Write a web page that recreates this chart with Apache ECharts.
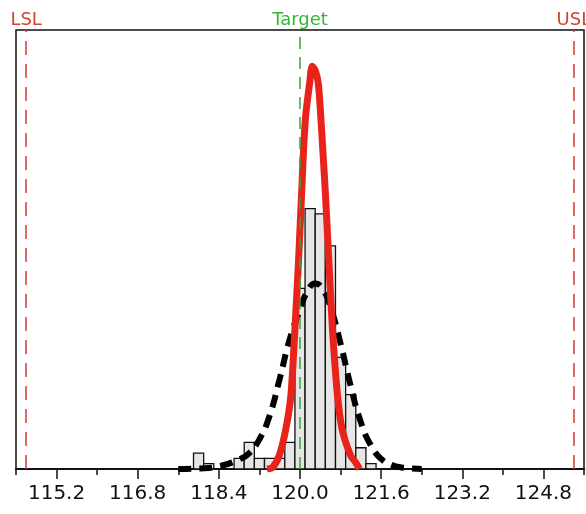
<!DOCTYPE html>
<html>
<head>
<meta charset="utf-8">
<script src="https://cdn.jsdelivr.net/npm/echarts@6/dist/echarts.min.js"></script>
<style>
  html, body { margin: 0; padding: 0; background: #fff; }
  #main { width: 586px; height: 514px; }
</style>
</head>
<body>
<div id="main"></div>
<script>
// histogram bins (center of each 0.2 wide bin) and counts
var binWidth = 0.2
var binCenters = [118.0, 118.2, 118.4, 118.6, 118.8, 119.0, 119.2, 119.4, 119.6, 119.8,
                  120.0, 120.2, 120.4, 120.6, 120.8, 121.0, 121.2, 121.4]
var binCounts = [3, 1, 0, 0, 2, 5, 2, 2, 2, 5,
                 34, 49, 48, 42, 21, 14, 4, 1]

// overall fit (black dashed)
var overallX = [117.6, 118.0, 118.4, 118.8, 119.0, 119.2, 119.4, 119.6, 119.8, 120.0,
                120.15, 120.3, 120.45, 120.6, 120.8, 121.0, 121.2, 121.4, 121.6, 121.8, 122.0, 122.4]
var overallY = [0, 0.1, 0.5, 1.8, 3.0, 5.6, 10.0, 17.0, 24.5, 30.0,
                33.5, 34.9, 33.8, 30.5, 23.6, 15.6, 8.8, 4.4, 1.9, 0.8, 0.3, 0]

// within fit (red)
var withinX = [119.35, 119.46, 119.59, 119.72, 119.82, 119.9, 119.97, 120.03, 120.07, 120.11, 120.19, 120.24,
               120.3, 120.36, 120.41, 120.45, 120.5, 120.57, 120.64, 120.74, 120.83, 121.0, 121.1, 121.17]
var withinY = [0, 0.3, 2.5, 7.5, 13.8, 26.4, 38.9, 51.5, 60, 66.3, 72.6, 75.8,
               75.0, 72.6, 66.3, 60, 52, 38.9, 26.4, 13.8, 7.5, 2.5, 1.2, 0]

var xTickLabels = [115.2, 116.8, 118.4, 120.0, 121.6, 123.2, 124.8]
var LSL = 114.6
var USL = 125.4
var TARGET = 120.0

var chart = echarts.init(document.getElementById('main'))

function pairs(xs, ys) {
  return xs.map(function (x, i) { return [x, ys[i]] })
}

var option = {
  animation: false,
  grid: {
    left: 16, right: 2, top: 30, bottom: 45,
    show: true,
    borderColor: '#111',
    borderWidth: 1.5
  },
  xAxis: [{
    type: 'value',
    min: 114.4,
    max: 125.6,
    interval: 0.8,
    splitLine: { show: false },
    axisLine: { onZero: false, lineStyle: { color: '#111', width: 2 } },
    axisTick: { length: 6, lineStyle: { color: '#111', width: 1.5 } },
    axisLabel: {
      customValues: xTickLabels,
      formatter: function (v) { return v.toFixed(1) },
      color: '#111',
      fontFamily: 'DejaVu Sans',
      fontSize: 20,
      margin: 15
    }
  }, {
    // longer ticks at the labelled values
    type: 'value',
    position: 'bottom',
    min: 114.4,
    max: 125.6,
    interval: 0.8,
    splitLine: { show: false },
    axisLine: { show: false },
    axisLabel: { show: false },
    axisTick: { customValues: xTickLabels, length: 10, lineStyle: { color: '#111', width: 1.5 } }
  }],
  yAxis: {
    type: 'value',
    min: 0,
    max: 82.6,
    show: false
  },
  series: [
    {
      name: 'hist',
      type: 'custom',
      data: pairs(binCenters, binCounts).filter(function (d) { return d[1] > 0 }),
      renderItem: function (params, api) {
        var x = api.value(0), c = api.value(1)
        var p0 = api.coord([x - binWidth / 2, c])
        var p1 = api.coord([x + binWidth / 2, 0])
        return {
          type: 'rect',
          shape: { x: p0[0], y: p0[1], width: p1[0] - p0[0], height: p1[1] - p0[1] },
          style: { fill: '#e6e6e6', stroke: '#111', lineWidth: 1.3 }
        }
      },
      z: 2,
      markLine: {
        silent: true,
        symbol: 'none',
        animation: false,
        data: [
          {
            xAxis: LSL,
            lineStyle: { color: '#d33a32', type: [14, 9], width: 1.5 },
            label: { formatter: 'LSL', color: '#d2452f', fontFamily: 'DejaVu Sans', fontSize: 18, distance: 1 }
          },
          {
            xAxis: USL,
            lineStyle: { color: '#d33a32', type: [14, 9], width: 1.5 },
            label: { formatter: 'USL', color: '#d2452f', fontFamily: 'DejaVu Sans', fontSize: 18, distance: 1 }
          },
          {
            xAxis: TARGET,
            lineStyle: { color: '#2eaa2e', type: [12, 8], width: 1.5 },
            label: { formatter: 'Target', color: '#33b833', fontFamily: 'DejaVu Sans', fontSize: 18, distance: 1 }
          }
        ]
      }
    },
    {
      name: 'overall',
      type: 'line',
      data: pairs(overallX, overallY),
      smooth: true,
      showSymbol: false,
      lineStyle: { color: '#000', width: 6, type: [13, 8] },
      z: 3
    },
    {
      name: 'within',
      type: 'line',
      data: pairs(withinX, withinY),
      smooth: 0.25,
      showSymbol: false,
      lineStyle: { color: '#e8231c', width: 7 },
      z: 4
    }
  ]
}

chart.setOption(option)
</script>
</body>
</html>
